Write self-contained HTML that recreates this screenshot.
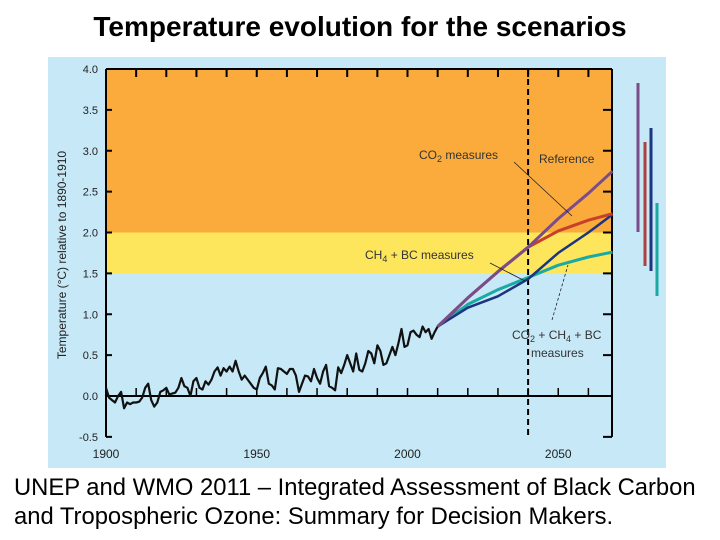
<!DOCTYPE html>
<html><head><meta charset="utf-8"><style>
body{margin:0;width:720px;height:540px;background:#fff;overflow:hidden;font-family:"Liberation Sans",sans-serif;}
#title{position:absolute;left:0;width:720px;top:11px;text-align:center;font-size:28px;font-weight:bold;color:#000;}
#cap{position:absolute;left:14px;top:473px;font-size:23.8px;line-height:29px;color:#000;white-space:nowrap;}
svg{position:absolute;left:0;top:0;}
</style></head><body>
<div id="title">Temperature evolution for the scenarios</div>
<svg id="chart" width="720" height="540"></svg>
<div id="cap">UNEP and WMO 2011 – Integrated Assessment of Black Carbon<br>and Tropospheric Ozone: Summary for Decision Makers.</div>
<script>
const obsStartYear = 1900;
const observed = [0.1,-0.02,-0.05,-0.08,0.0,0.05,-0.15,-0.08,-0.1,-0.08,
-0.08,-0.07,-0.02,0.1,0.15,-0.05,-0.13,-0.08,0.05,0.07,
0.1,0.02,0.03,0.04,0.1,0.22,0.12,0.1,0.0,0.18,
0.22,0.1,0.08,0.18,0.14,0.2,0.3,0.35,0.25,0.34,
0.3,0.36,0.3,0.43,0.3,0.2,0.25,0.2,0.15,0.1,
0.08,0.22,0.28,0.36,0.15,0.13,0.08,0.34,0.33,0.3,
0.27,0.33,0.33,0.25,0.05,0.15,0.25,0.24,0.18,0.33,
0.22,0.15,0.3,0.38,0.12,0.1,0.07,0.35,0.28,0.38,
0.5,0.4,0.3,0.52,0.32,0.3,0.4,0.55,0.52,0.4,
0.62,0.55,0.38,0.4,0.5,0.6,0.5,0.65,0.82,0.6,
0.62,0.78,0.8,0.75,0.72,0.85,0.78,0.82,0.7,0.78,0.85];
const projYears = [2010,2020,2030,2040,2050,2060,2068];
const reference = [0.85,1.2,1.52,1.82,2.17,2.48,2.75];
const co2Measures = [0.85,1.2,1.52,1.82,2.02,2.15,2.23];
const ch4bcMeasures = [0.85,1.08,1.22,1.43,1.75,2.0,2.22];
const allMeasures = [0.85,1.12,1.3,1.45,1.6,1.7,1.76];
const yTicks = [-0.5,0,0.5,1,1.5,2,2.5,3,3.5,4];
const yTickLabels = ["-0.5","0.0","0.5","1.0","1.5","2.0","2.5","3.0","3.5","4.0"];
const xLabelYears = [1900,1950,2000,2050];

const X = y => 106 + (y-1900)*3.015;
const Y = v => 396 - v*81.75;
const svg = document.getElementById('chart');
const NS='http://www.w3.org/2000/svg';
function mk(tag, attrs, parent){const e=document.createElementNS(NS,tag);for(const k in attrs)e.setAttribute(k,attrs[k]);(parent||svg).appendChild(e);return e;}

let e;
e=mk('rect',{x:48,y:57,width:618,height:411,fill:'#c6e8f7'});


const x0=X(1900), x1=612;
e=mk('rect',{x:x0,y:Y(4),width:x1-x0,height:Y(2)-Y(4),fill:'#fbab3b'});


e=mk('rect',{x:x0,y:Y(2),width:x1-x0,height:Y(1.5)-Y(2),fill:'#fde65c'});



mk('line',{x1:x0,y1:Y(4),x2:x0,y2:Y(-0.5),stroke:'#000','stroke-width':2});
mk('line',{x1:x1,y1:Y(4),x2:x1,y2:Y(-0.5),stroke:'#000','stroke-width':2});
mk('line',{x1:x0,y1:Y(4),x2:x1,y2:Y(4),stroke:'#000','stroke-width':2});
e=mk('line',{x1:x0,y1:Y(0),x2:x1,y2:Y(0),stroke:'#000','stroke-width':2});



yTicks.forEach((v,i)=>{
  mk('line',{x1:x0,y1:Y(v),x2:x0+6,y2:Y(v),stroke:'#000','stroke-width':2});
  mk('line',{x1:x1,y1:Y(v),x2:x1-9,y2:Y(v),stroke:'#000','stroke-width':2});
  const t=mk('text',{x:x0-8,y:Y(v)+4,'text-anchor':'end','font-size':11,fill:'#222'});
  t.textContent=yTickLabels[i];
  
  
});
for(let yr=1910; yr<=2060; yr+=10){
  mk('line',{x1:X(yr),y1:Y(4),x2:X(yr),y2:Y(4)+8,stroke:'#000','stroke-width':2});
  mk('line',{x1:X(yr),y1:Y(0),x2:X(yr),y2:Y(0)-8,stroke:'#000','stroke-width':1.5});
}
xLabelYears.forEach(yr=>{
  const t=mk('text',{x:X(yr),y:458,'text-anchor':'middle','font-size':12,fill:'#222'});
  t.textContent=yr;
  
  
});
e=mk('text',{x:0,y:0,transform:'translate(66,255) rotate(-90)','text-anchor':'middle','font-size':12,fill:'#222'});
e.textContent='Temperature (°C) relative to 1890-1910';



e=mk('line',{x1:X(2040),y1:Y(4),x2:X(2040),y2:Y(-0.5),stroke:'#000','stroke-width':2,'stroke-dasharray':'6,4'});



function series(vals, xs, color, w, name){
  const pts=vals.map((v,i)=>X(xs[i]).toFixed(1)+','+Y(v).toFixed(1)).join(' ');
  const p=mk('polyline',{points:pts,fill:'none',stroke:color,'stroke-width':w,'stroke-linejoin':'round'});
  
  
}
series(observed, observed.map((_,i)=>obsStartYear+i), '#111', 2.2, 'observed-temperature-line');
series(allMeasures, projYears, '#1aa9a3', 3, 'co2-ch4-bc-measures-line');
series(ch4bcMeasures, projYears, '#1c3580', 2.5, 'ch4-bc-measures-line');
series(co2Measures, projYears, '#c8402a', 3, 'co2-measures-line');
series(reference, projYears, '#7a4d8a', 3, 'reference-line');

function label(x,y,html,name){const t=mk('text',{x:x,y:y,'font-size':12,fill:'#333'});t.innerHTML=html;}
label(419,159,'CO<tspan font-size="9" dy="3">2</tspan><tspan dy="-3"> measures</tspan>','co2-measures-label');
label(539,163,'Reference','reference-label');
label(365,259,'CH<tspan font-size="9" dy="3">4</tspan><tspan dy="-3"> + BC measures</tspan>','ch4-bc-measures-label');
label(512,339,'CO<tspan font-size="9" dy="3">2</tspan><tspan dy="-3"> + CH</tspan><tspan font-size="9" dy="3">4</tspan><tspan dy="-3"> + BC</tspan>','combined-measures-label');
label(531,357,'measures','combined-measures-label-2');
mk('line',{x1:514,y1:162,x2:572,y2:216,stroke:'#222','stroke-width':0.8});
mk('line',{x1:490,y1:263,x2:525,y2:281,stroke:'#222','stroke-width':0.8});
mk('line',{x1:552,y1:320,x2:568,y2:265,stroke:'#222','stroke-width':0.8,'stroke-dasharray':'3,2'});

[[638,83,232,'#7a4d8a','reference-range-bar'],[645,142,266,'#b0403e','co2-range-bar'],[651,128,271,'#1c3580','ch4-bc-range-bar'],[657,203,296,'#1aa9a3','combined-range-bar']].forEach(b=>{
  const l=mk('line',{x1:b[0],y1:b[1],x2:b[0],y2:b[2],stroke:b[3],'stroke-width':3});
  
  
});
</script>
</body></html>
